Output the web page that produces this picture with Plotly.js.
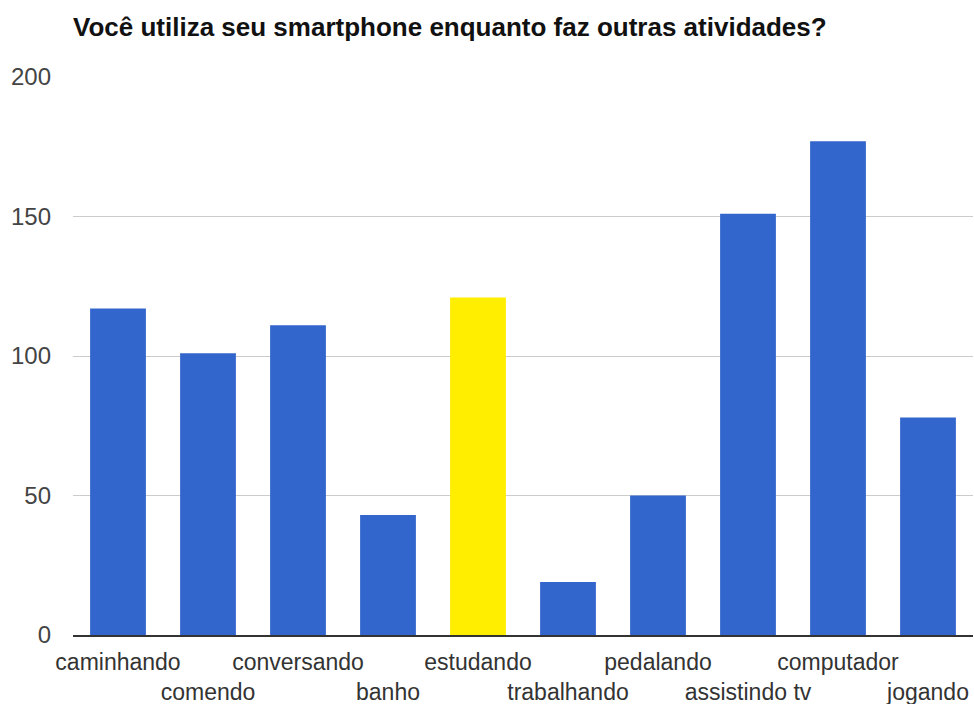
<!DOCTYPE html>
<html>
<head>
<meta charset="utf-8">
<script src="https://cdn.plot.ly/plotly-3.0.1.min.js"></script>
<style>html,body{margin:0;padding:0;background:#fff;}#chart{width:974px;height:704px;}</style>
</head>
<body>
<div id="chart"></div>
<script>
const categories = ["caminhando","comendo","conversando","banho","estudando","trabalhando","pedalando","assistindo tv","computador","jogando"];
const values = [117, 101, 111, 43, 121, 19, 50, 151, 177, 78];
const barColors = ["#3366cc","#3366cc","#3366cc","#3366cc","#ffee00","#3366cc","#3366cc","#3366cc","#3366cc","#3366cc"];
const yTicks = [0, 50, 100, 150, 200];

const tickText = categories.map((c, i) => i % 2 === 0 ? c : "\u00a0<br>" + c);

const trace = {
  type: "bar",
  x: categories,
  y: values,
  marker: {color: barColors, line: {width: 0}},
  hoverinfo: "x+y"
};

const layout = {
  width: 974, height: 704,
  margin: {l: 73, r: 1, t: 77, b: 69},
  paper_bgcolor: "#ffffff", plot_bgcolor: "#ffffff",
  font: {family: "Liberation Sans, Arial, sans-serif", size: 22, color: "#444"},
  title: {
    text: "<b>Você utiliza seu smartphone enquanto faz outras atividades?</b>",
    x: 0, xanchor: "left", xref: "paper",
    y: 1 - 27/704, yanchor: "middle", yref: "container",
    font: {family: "Liberation Sans, Arial, sans-serif", size: 26, color: "#111"}
  },
  bargap: 0.38,
  showlegend: false,
  xaxis: {
    type: "category",
    tickmode: "array",
    tickvals: categories,
    ticktext: tickText,
    tickfont: {size: 23, color: "#333"},
    showgrid: false,
    showline: true, linecolor: "#333", linewidth: 2,
    ticks: "", tickangle: 0, ticklabelstandoff: 5,
    automargin: false
  },
  yaxis: {
    range: [0, 200],
    tickmode: "array",
    tickvals: yTicks,
    ticktext: yTicks.map(String),
    tickfont: {size: 24, color: "#444"},
    showgrid: true, gridcolor: "#cccccc", gridwidth: 1,
    zeroline: false,
    showline: false,
    ticks: "", ticklabelstandoff: 21,
    automargin: false
  }
};

Plotly.newPlot("chart", [trace], layout, {displayModeBar: false, staticPlot: true});
</script>
</body>
</html>
